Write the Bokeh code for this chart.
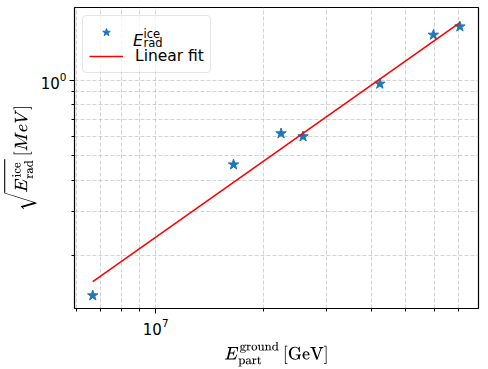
import numpy as np
from bokeh.plotting import figure
from bokeh.models import Range1d, FixedTicker, Legend, LegendItem, Label, BoxAnnotation
from bokeh.embed import file_html
from bokeh.resources import INLINE

# data
e_ground = [6.67e6, 1.65e7, 2.24e7, 2.58e7, 4.23e7, 5.97e7, 7.08e7]
sqrt_e_ice = [0.138, 0.461, 0.614, 0.597, 0.970, 1.523, 1.644]
fit_x = [6.67e6, 7.08e7]
fit_y = [0.157, 1.706]

x_major = [1e7]
x_minor = [6e6, 7e6, 8e6, 9e6, 2e7, 3e7, 4e7, 5e7, 6e7, 7e7]
y_major = [1.0]
y_minor = [0.2, 0.3, 0.4, 0.5, 0.6, 0.7, 0.8, 0.9]

XR = (5.93e6, 7.98e7)
YR = (0.1225, 1.96)
FW, FH = 404, 301

p = figure(frame_width=FW, frame_height=FH, x_axis_type="log", y_axis_type="log",
           x_range=Range1d(*XR), y_range=Range1d(*YR),
           output_backend="svg", toolbar_location=None,
           min_border_left=68, min_border_right=8, min_border_top=7, min_border_bottom=53)

p.outline_line_color = "black"
p.outline_line_width = 1.2

for ax, maj, mnr in ((p.xaxis[0], x_major, x_minor), (p.yaxis[0], y_major, y_minor)):
    ax.ticker = FixedTicker(ticks=maj, minor_ticks=mnr)
    ax.axis_line_color = None
    ax.major_tick_line_color = "black"
    ax.minor_tick_line_color = "black"
    ax.major_tick_out = 5
    ax.major_tick_in = 0
    ax.minor_tick_out = 3
    ax.minor_tick_in = 0
    ax.major_label_text_font = "DejaVu Sans"
    ax.major_label_text_font_size = "15px"
    ax.major_label_text_color = "black"
    ax.major_label_standoff = 4
    ax.axis_label_standoff = 4
    ax.axis_label_text_font = "DejaVu Sans"
    ax.axis_label_text_font_size = "13.5px"
    ax.axis_label_text_color = "black"
    ax.axis_label_text_font_style = "normal"
p.yaxis[0].axis_label_standoff = 1
p.yaxis[0].major_label_standoff = 3

p.xaxis[0].axis_label = r"$$E^{\mathrm{ground}}_{\mathrm{part}}\,[\mathrm{GeV}]$$"
p.yaxis[0].axis_label = r"$$\sqrt{E^{\mathrm{ice}}_{\mathrm{rad}}}\,[MeV]$$"

p.xgrid[0].ticker = FixedTicker(ticks=x_major + x_minor)
p.ygrid[0].ticker = FixedTicker(ticks=y_major + y_minor)
for g in (p.xgrid[0], p.ygrid[0]):
    g.grid_line_color = "#b0b0b0"
    g.grid_line_alpha = 0.7
    g.grid_line_dash = "4 2"
    g.grid_line_width = 0.8

stars = p.scatter(e_ground, sqrt_e_ice, marker="star", size=11, color="#1f77b4")
fit = p.line(fit_x, fit_y, line_color="red", line_width=1.6)


def page_to_data(px, py):
    """Convert a position in page pixels (frame at left 76, top 7) to data units."""
    fx = (px - 76) / FW
    fy = 1 - (py - 7) / FH
    lx = 10 ** (np.log10(XR[0]) + fx * (np.log10(XR[1]) - np.log10(XR[0])))
    ly = 10 ** (np.log10(YR[0]) + fy * (np.log10(YR[1]) - np.log10(YR[0])))
    return lx, ly


# translucent white legend background (drawn separately so the text pieces sit above it)
bl, bt = page_to_data(84, 16)
br, bb = page_to_data(211, 71)
p.add_layout(BoxAnnotation(left=bl, right=br, top=bt, bottom=bb, fill_color="white",
                           fill_alpha=0.8, line_color=None, level="annotation"))

legend = Legend(items=[LegendItem(label=" ", renderers=[stars]),
                       LegendItem(label="Linear fit", renderers=[fit])],
                location="top_left")
legend.label_text_font = "DejaVu Sans"
legend.label_text_font_size = "15.5px"
legend.label_text_color = "black"
legend.border_line_color = "#cccccc"
legend.border_radius = 4
legend.background_fill_alpha = 0.0
legend.glyph_width = 34
legend.glyph_height = 20
legend.label_height = 20
legend.label_width = 69
legend.label_standoff = 12
legend.padding = 6
legend.spacing = 4
legend.margin = 8
p.add_layout(legend)

# legend entry text  E^{ice}_{rad}  built from three text pieces
for txt, (px, py), size, style in (("E", (134.5, 39.7), "16px", "italic"),
                                   ("ice", (145.0, 33.0), "11.5px", "normal"),
                                   ("rad", (145.0, 42.7), "11.5px", "normal")):
    lx, ly = page_to_data(px, py)
    p.add_layout(Label(x=lx, y=ly, text=txt, text_font="DejaVu Sans", text_font_size=size,
                       text_font_style=style, text_color="black", level="overlay",
                       text_baseline="alphabetic", text_align="left"))

open("out.html", "w").write(file_html(p, INLINE))
